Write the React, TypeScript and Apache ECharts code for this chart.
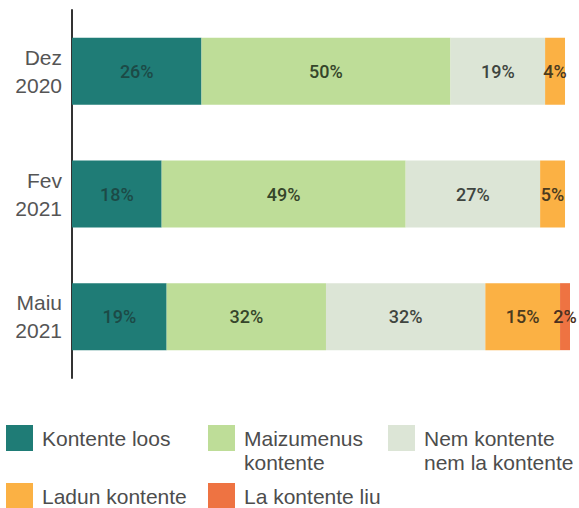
import React, { useEffect, useRef } from "react";
import * as echarts from "echarts";

const categories = ["Dez\n2020", "Fev\n2021", "Maiu\n2021"];
const seriesNames = [
  "Kontente loos",
  "Maizumenus\nkontente",
  "Nem kontente\nnem la kontente",
  "Ladun kontente",
  "La kontente liu",
];
const kontenteLoos = [26, 18, 19];
const maizumenusKontente = [50, 49, 32];
const nemKontente = [19, 27, 32];
const ladunKontente = [4, 5, 15];
const laKontenteLiu = [0, 0, 2];
const seriesValues = [kontenteLoos, maizumenusKontente, nemKontente, ladunKontente, laKontenteLiu];
const colors = ["#1f7c76", "#bedd98", "#dce5d6", "#fbb144", "#ee7342"];
const labelColors = ["#1c4a46", "#35452a", "#3f4540", "#4a3a1e", "#4a3020"];

// legend placement (icon left, icon top)
const legendPos = [
  [6, 425],
  [208, 425],
  [388, 425],
  [6, 483],
  [208, 483],
];

export default function App() {
  const ref = useRef<HTMLDivElement>(null);
  useEffect(() => {
    if (!ref.current) return;
    const chart = echarts.init(ref.current, null, { renderer: "svg" });
    const font = "'Liberation Sans', Arial, sans-serif";
    const legends = seriesNames.map((name, i) => {
      const multi = name.includes("\n");
      return {
        data: [name],
        left: legendPos[i][0],
        top: multi ? legendPos[i][1] - 23 : legendPos[i][1],
        padding: 0,
        icon: "rect",
        itemWidth: 27,
        itemHeight: 26,
        selectedMode: false,
        formatter: (n: string) => (n.includes("\n") ? "\u00a0\n" + n : n),
        textStyle: {
          fontFamily: font,
          fontSize: 21,
          lineHeight: 24,
          color: "#4d4d4d",
          padding: [0, 0, 0, 4],
        },
      };
    });
    chart.setOption({
      animation: false,
      grid: { left: 72, right: 9, top: 10, bottom: 130, containLabel: false },
      xAxis: { type: "value", min: 0, max: 100, show: false },
      yAxis: {
        type: "category",
        data: categories,
        inverse: true,
        axisLine: { show: true, lineStyle: { color: "#333", width: 2 } },
        axisTick: { show: false },
        axisLabel: {
          fontFamily: font,
          fontSize: 21,
          lineHeight: 28,
          color: "#555",
          margin: 10,
          align: "right",
          padding: [3, 0, 0, 0],
        },
      },
      legend: legends,
      series: seriesNames.map((name, i) => ({
        name,
        type: "bar",
        stack: "total",
        barWidth: 67,
        itemStyle: { color: colors[i] },
        label: {
          show: true,
          position: "inside",
          formatter: (p: any) => (p.value > 0 ? p.value + "%" : ""),
          fontFamily: "Roboto, 'Liberation Sans', sans-serif",
          fontWeight: 500,
          fontSize: 18,
          color: labelColors[i],
        },
        data: seriesValues[i].map((v) => (v > 0 ? v : null)),
      })),
    });
    return () => chart.dispose();
  }, []);
  return <div ref={ref} style={{ width: 579, height: 508, position: "absolute", left: 0, top: 0 }} />;
}
